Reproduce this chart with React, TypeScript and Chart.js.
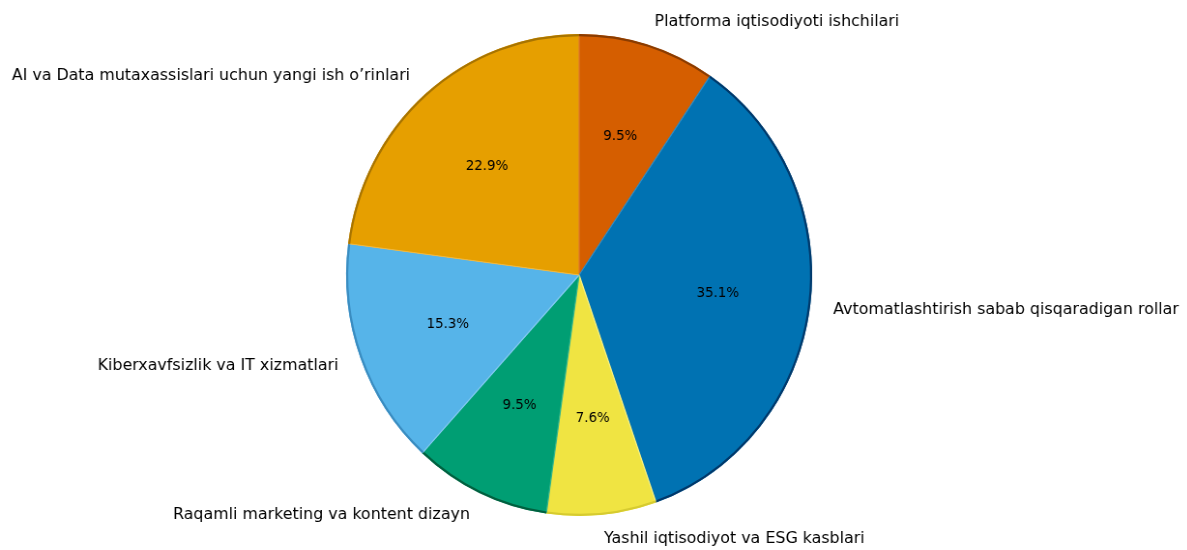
import React, { useEffect, useRef } from 'react';
import { Chart, registerables } from 'chart.js';

Chart.register(...registerables);

const categories: string[] = [
  'Platforma iqtisodiyoti ishchilari',
  'Avtomatlashtirish sabab qisqaradigan rollar',
  'Yashil iqtisodiyot va ESG kasblari',
  'Raqamli marketing va kontent dizayn',
  'Kiberxavfsizlik va IT xizmatlari',
  'AI va Data mutaxassislari uchun yangi ish o’rinlari',
];
const shares: number[] = [9.5, 35.1, 7.6, 9.5, 15.3, 22.9];
const sliceColors: string[] = ['#D55E00', '#0072B2', '#F0E442', '#009E73', '#56B4E9', '#E69F00'];
const edgeColors: string[] = ['#8A3C00', '#00386A', '#D6CB30', '#00603F', '#3A8CC0', '#A87400'];
const lightEdges: string[] = ['#E07A30', '#2A8AC4', '#F8F080', '#30B48C', '#80C8F0', '#F0B840'];

const SCALE_X = 233 / 241;
const CANVAS_W = 1228;
const CANVAS_H = 550;

const edgePlugin = {
  id: 'pieEdges',
  afterDatasetsDraw(chart: any) {
    const ctx = chart.ctx;
    const meta = chart.getDatasetMeta(0);
    ctx.save();
    meta.data.forEach((el: any, i: number) => {
      const { x, y, startAngle, endAngle, outerRadius } = el.getProps(
        ['x', 'y', 'startAngle', 'endAngle', 'outerRadius'],
        true
      );
      // light radial edge on the start side
      ctx.strokeStyle = lightEdges[i];
      ctx.lineWidth = 1.2;
      ctx.beginPath();
      ctx.moveTo(x, y);
      ctx.lineTo(x + Math.cos(startAngle) * (outerRadius - 1), y + Math.sin(startAngle) * (outerRadius - 1));
      ctx.stroke();
      // dark outer edge
      ctx.strokeStyle = edgeColors[i];
      ctx.lineWidth = 2.2;
      ctx.beginPath();
      ctx.arc(x, y, outerRadius - 1.1, startAngle, endAngle);
      ctx.stroke();
    });
    ctx.restore();
  },
};

const labelPlugin = {
  id: 'pieLabels',
  afterDatasetsDraw(chart: any) {
    const ctx = chart.ctx;
    const meta = chart.getDatasetMeta(0);
    const data = chart.data.datasets[0].data as number[];
    const total = data.reduce((a, b) => a + b, 0);
    ctx.save();
    meta.data.forEach((el: any, i: number) => {
      const { x, y, startAngle, endAngle, outerRadius } = el.getProps(
        ['x', 'y', 'startAngle', 'endAngle', 'outerRadius'],
        true
      );
      const mid = (startAngle + endAngle) / 2;
      const c = Math.cos(mid);
      const s = Math.sin(mid);
      ctx.font = '16.4px "DejaVu Sans"';
      ctx.fillStyle = '#000';
      ctx.textBaseline = 'middle';
      ctx.textAlign = c >= 0 ? 'left' : 'right';
      ctx.fillText(chart.data.labels[i], x + c * outerRadius * 1.1, y + s * outerRadius * 1.1);
      ctx.font = '13.8px "DejaVu Sans"';
      ctx.textAlign = 'center';
      const pct = ((data[i] / total) * 100).toFixed(1) + '%';
      ctx.fillText(pct, x + c * outerRadius * 0.6, y + s * outerRadius * 0.6);
    });
    ctx.restore();
  },
};

export default function App() {
  const ref = useRef<HTMLCanvasElement | null>(null);
  useEffect(() => {
    if (!ref.current) return;
    const chart = new Chart(ref.current, {
      type: 'pie',
      data: {
        labels: categories,
        datasets: [
          {
            data: shares,
            backgroundColor: sliceColors,
            borderWidth: 0,
          },
        ],
      },
      options: {
        animation: false,
        responsive: false,
        devicePixelRatio: 1,
        radius: 241,
        layout: { padding: { left: 358, right: 388, top: 34, bottom: 34 } },
        plugins: {
          legend: { display: false },
          tooltip: { enabled: false },
        },
      },
      plugins: [edgePlugin, labelPlugin],
    } as any);
    return () => chart.destroy();
  }, []);
  return (
    <div
      style={{
        position: 'fixed',
        left: 0,
        top: 0,
        width: 1187,
        height: 550,
        overflow: 'hidden',
        background: '#fff',
      }}
    >
      <canvas
        ref={ref}
        width={CANVAS_W}
        height={CANVAS_H}
        style={{
          display: 'block',
          width: CANVAS_W,
          height: CANVAS_H,
          transform: `scaleX(${SCALE_X})`,
          transformOrigin: '0 0',
        }}
      />
    </div>
  );
}
